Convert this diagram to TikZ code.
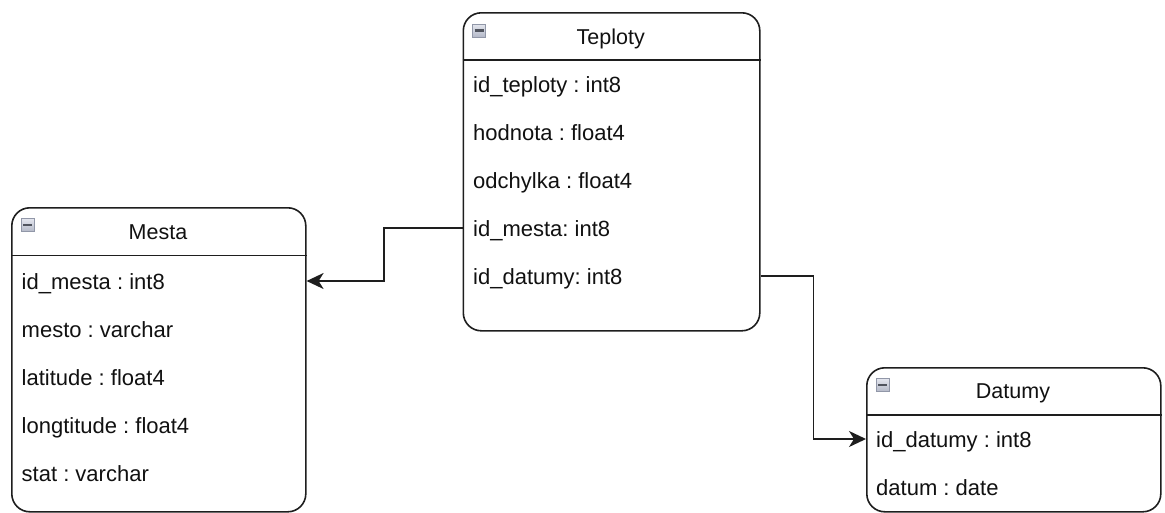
\documentclass[tikz,border=0pt]{standalone}
\usepackage{fontspec}
\setmainfont{Liberation Sans}
\usetikzlibrary{arrows.meta}
\definecolor{edge}{HTML}{1E1E1E}
\definecolor{txt}{HTML}{111111}
\definecolor{icontop}{HTML}{E4E6EE}
\definecolor{iconbot}{HTML}{B4B9C8}
\definecolor{iconedge}{HTML}{9197A8}
\definecolor{iconbar}{HTML}{50545E}
\frenchspacing
\begin{document}
\begin{tikzpicture}[x=1pt,y=-1pt,
  tbl/.style={draw=edge, line width=1.6pt, rounded corners=18pt, inner sep=0pt, anchor=north west},
  sepline/.style={draw=edge, line width=1.6pt},
  rowtext/.style={inner sep=0pt, anchor=west, text height=17pt, text depth=0pt, text=txt,
     font=\fontsize{22}{26}\selectfont\frenchspacing},
  titletext/.style={inner sep=0pt, anchor=center, text height=17pt, text depth=0pt, text=txt,
     font=\fontsize{21.5}{26}\selectfont},
  iconbox/.style={draw=iconedge, line width=0.8pt, top color=icontop, bottom color=iconbot,
     minimum width=13pt, minimum height=13pt, inner sep=0pt},
  iconminus/.style={draw=iconbar, line width=2.6pt},
  conn/.style={draw=edge, line width=1.6pt, -{Stealth[length=17pt,width=16pt,inset=5pt]}}
]
\useasboundingbox (0,0) rectangle (1165,512);
\fill[white] (0,0) rectangle (1165,512);

% ---------- Teploty ----------
\node[tbl, minimum width=296.5pt, minimum height=318pt] (teploty) at (462.5,12) {};
\draw[sepline] (teploty.west |- 0,60) -- (teploty.east |- 0,60);
\node[titletext] (tt) at (610.75,36) {Teploty};
\node[iconbox] (ticon) at (479,30.5) {};
\draw[iconminus] ([xshift=-4.5pt]ticon.center) -- ([xshift=4.5pt]ticon.center);
\node[rowtext] (t1) at (473,84) {id\_teploty : int8};
\node[rowtext] (t2) at (473,132) {hodnota : float4};
\node[rowtext] (t3) at (473,180) {odchylka : float4};
\node[rowtext] (t4) at (473,228) {id\_mesta: int8};
\node[rowtext] (t5) at (473,276) {id\_datumy: int8};

% ---------- Mesta ----------
\node[tbl, minimum width=294pt, minimum height=304pt] (mesta) at (11,207) {};
\draw[sepline] (mesta.west |- 0,255.5) -- (mesta.east |- 0,255.5);
\node[titletext] (mt) at (158,230.5) {Mesta};
\node[iconbox] (micon) at (27.5,225) {};
\draw[iconminus] ([xshift=-4.5pt]micon.center) -- ([xshift=4.5pt]micon.center);
\node[rowtext] (m1) at (21.5,281) {id\_mesta : int8};
\node[rowtext] (m2) at (21.5,329) {mesto : varchar};
\node[rowtext] (m3) at (21.5,377) {latitude : float4};
\node[rowtext] (m4) at (21.5,425) {longtitude : float4};
\node[rowtext] (m5) at (21.5,473) {stat : varchar};

% ---------- Datumy ----------
\node[tbl, minimum width=294pt, minimum height=144pt] (datumy) at (866,367) {};
\draw[sepline] (datumy.west |- 0,415) -- (datumy.east |- 0,415);
\node[titletext] (dt) at (1013,389.5) {Datumy};
\node[iconbox] (dicon) at (882.5,385) {};
\draw[iconminus] ([xshift=-4.5pt]dicon.center) -- ([xshift=4.5pt]dicon.center);
\node[rowtext] (d1) at (876,439) {id\_datumy : int8};
\node[rowtext] (d2) at (876,487) {datum : date};

% ---------- connectors ----------
\draw[conn] (t4.west -| teploty.west) -- ++(-78.5,0) |- (m1.west -| mesta.east);
\draw[conn] (t5.west -| teploty.east) -- ++(53,0) |- (d1.west -| datumy.west);
\end{tikzpicture}
\end{document}
